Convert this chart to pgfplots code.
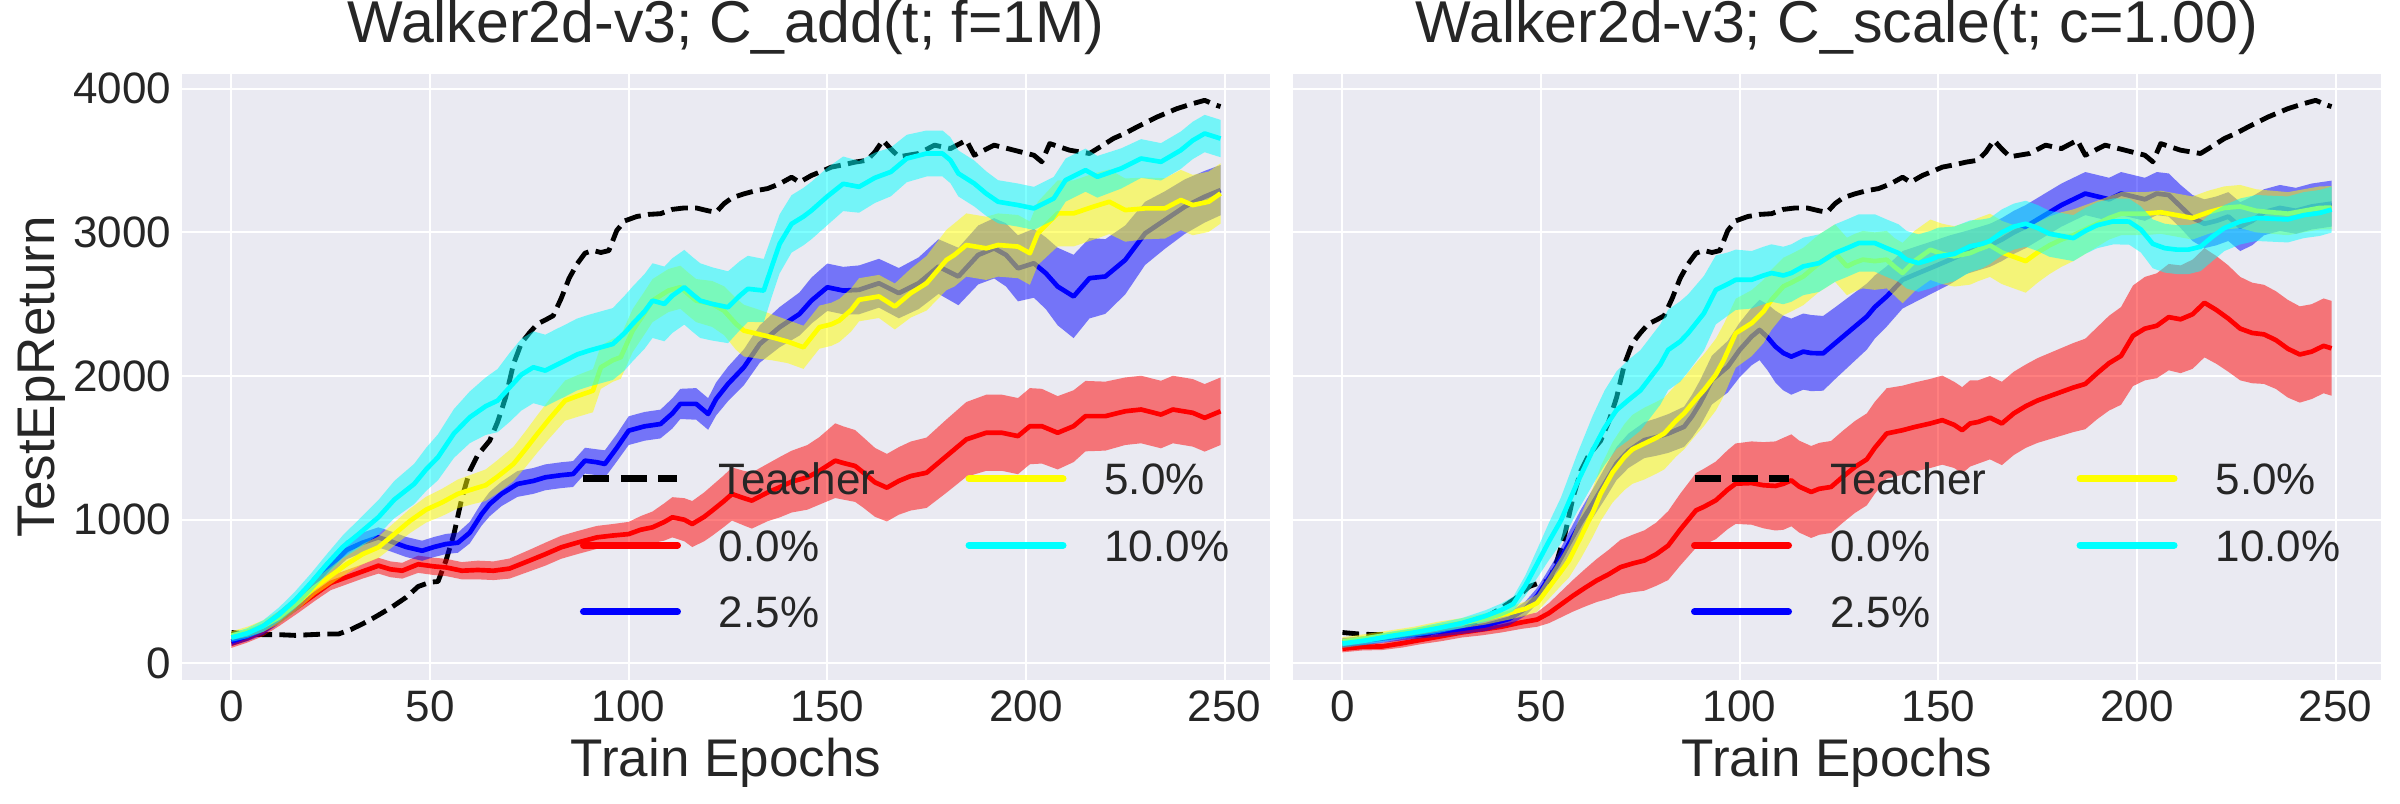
\documentclass[border=0pt]{standalone}
\usepackage{fontspec}
\setmainfont{Liberation Sans}
\usepackage{pgfplots}
\usepackage{pgfplotstable}
\pgfplotsset{compat=1.18}
\usepgfplotslibrary{fillbetween}
\definecolor{bgc}{RGB}{234,234,242}
\definecolor{tc}{RGB}{38,38,38}
\definecolor{cR}{RGB}{255,0,0}
\definecolor{cB}{RGB}{0,0,255}
\definecolor{cY}{RGB}{255,255,0}
\definecolor{cC}{RGB}{0,255,255}
\definecolor{cK}{RGB}{0,0,0}
\newcommand\tickfont{\fontsize{13.2}{15.8}\selectfont}
\newcommand\labfont{\fontsize{15.9}{19}\selectfont}
\newcommand\titfont{\fontsize{17.7}{21}\selectfont}

\pgfplotstableread{
x m
0 215
4 205
8 200
12 200
16 195
20 200
24 205
27 205
30 235
33 275
36 320
40 385
44 460
47 535
50 565
52 570
54 715
56 900
58 1150
60 1340
62 1450
65 1550
67 1680
69 1850
71 2084
73 2230
75 2300
77 2363
79 2390
81 2420
83 2540
85 2680
87 2780
89 2855
91 2874
93 2860
95 2873
97 3013
99 3080
102 3110
105 3125
108 3130
111 3160
114 3170
117 3170
120 3150
122 3140
124 3200
126 3240
129 3268
132 3290
135 3305
138 3338
141 3384
143 3349
146 3396
149 3430
151 3454
154 3470
157 3489
160 3502
162 3560
164 3641
166 3580
168 3526
171 3540
173 3549
177 3607
181 3583
185 3641
187 3537
192 3607
197 3572
202 3537
204 3491
206 3618
211 3572
216 3549
219 3600
222 3653
225 3690
228 3734
233 3803
238 3861
242 3896
245 3919
248 3884
249 3876
}\Teacher

\pgfplotstableread{
x m d
0 138 30
4 175 30
8 225 35
12 300 40
17 400 45
21 480 45
25 560 50
29 600 50
33 640 50
37 680 55
40 655 55
43 645 55
47 690 60
51 675 60
54 668 60
58 645 60
62 650 65
66 645 65
70 660 70
75 715 75
79 760 80
83 808 80
87 840 80
92 877 80
96 890 80
100 900 85
103 930 95
106 947 110
109 985 130
111 1017 140
114 1000 150
116 970 160
119 1020 170
121 1063 175
124 1130 180
126 1179 185
129 1150 190
131 1133 195
135 1190 200
138 1226 210
141 1265 215
145 1295 225
148 1340 235
152 1411 260
154 1395 255
157 1374 250
159 1330 245
162 1260 240
165 1223 235
168 1270 235
171 1304 240
175 1327 245
180 1443 255
185 1559 260
190 1605 265
194 1605 265
198 1582 265
201 1651 265
204 1651 260
208 1605 255
212 1651 250
215 1721 245
220 1721 240
225 1755 235
229 1767 235
234 1732 235
237 1767 235
242 1744 235
245 1709 235
249 1755 235
}\LRed

\pgfplotstableread{
x m d
0 152 30
4 190 35
8 240 40
12 320 45
17 430 50
21 560 55
25 680 60
29 790 65
33 840 70
37 877 70
40 850 70
44 810 70
48 784 70
51 810 70
54 831 70
57 840 70
60 910 75
63 1040 80
65 1109 85
68 1180 85
72 1249 90
76 1270 90
79 1295 90
83 1310 90
86 1318 90
89 1411 90
92 1400 90
94 1388 95
97 1500 95
100 1620 100
104 1650 100
108 1666 100
111 1740 105
113 1806 105
117 1806 110
120 1736 110
122 1840 115
125 1945 120
129 2061 125
133 2223 130
138 2340 140
143 2432 150
146 2525 160
150 2618 165
154 2595 165
158 2600 170
163 2646 170
168 2577 175
173 2646 180
178 2762 190
183 2693 200
188 2843 205
192 2889 210
195 2843 220
198 2750 230
202 2785 240
205 2716 250
208 2623 270
212 2554 290
216 2681 280
220 2693 260
225 2808 240
230 2993 220
235 3086 200
240 3179 190
245 3248 180
249 3294 175
}\LBlue

\pgfplotstableread{
x m d
0 193 30
4 220 35
8 260 40
12 320 45
17 430 50
21 530 55
25 610 60
29 690 65
33 760 70
37 808 75
41 900 80
45 993 85
49 1070 90
53 1120 95
57 1180 100
61 1215 105
64 1240 110
67 1300 115
71 1388 120
74 1490 125
77 1597 130
80 1700 135
84 1829 140
87 1860 145
91 1898 150
93 2061 150
96 2110 150
98 2131 150
101 2316 150
104 2440 150
106 2525 150
110 2595 150
113 2618 150
115 2570 150
117 2525 150
121 2502 160
124 2455 170
127 2363 180
129 2316 180
133 2290 170
136 2270 160
140 2240 150
144 2200 150
146 2270 150
148 2340 150
151 2360 150
153 2386 150
156 2460 150
158 2531 150
163 2554 150
167 2484 160
171 2577 170
175 2646 190
180 2808 210
182 2843 220
185 2912 220
190 2889 220
193 2912 220
198 2901 220
201 2855 220
203 2993 220
208 3132 230
212 3132 230
217 3179 230
221 3213 225
225 3155 220
230 3167 215
235 3167 210
239 3225 210
242 3190 210
246 3213 210
249 3271 210
}\LYellow

\pgfplotstableread{
x m d
0 180 30
4 210 35
8 260 40
12 340 50
16 440 60
20 560 65
24 690 70
28 810 80
32 900 100
37 1017 120
41 1140 130
46 1249 140
49 1350 150
52 1435 160
56 1600 170
60 1713 180
64 1790 200
67 1829 220
70 1920 240
73 2010 250
76 2061 250
79 2038 250
82 2080 250
84 2107 250
87 2150 250
90 2177 250
93 2200 250
96 2223 250
99 2300 260
101 2363 260
104 2450 260
106 2525 260
109 2502 260
111 2560 260
114 2618 260
116 2570 260
118 2525 260
121 2502 255
125 2479 250
128 2560 240
130 2607 230
134 2595 220
136 2760 210
138 2920 205
141 3059 200
144 3110 200
146 3152 200
150 3250 200
154 3338 190
158 3317 180
162 3380 175
166 3421 170
170 3514 165
175 3549 160
179 3549 160
181 3502 160
183 3410 160
187 3340 160
190 3270 155
193 3213 150
198 3190 150
202 3167 150
207 3236 150
210 3364 150
215 3433 150
218 3387 145
224 3445 140
229 3514 135
234 3491 130
239 3572 130
242 3640 130
245 3688 130
249 3653 130
}\LCyan

\pgfplotstableread{
x m d
0 102 25
5 115 25
10 118 25
15 140 30
20 165 30
25 190 35
30 215 35
35 235 40
40 255 40
45 285 45
49 305 50
52 350 70
55 410 90
58 470 110
61 525 130
64 577 150
67 620 170
70 670 190
73 695 200
76 716 210
79 760 220
82 820 240
85 930 250
89 1065 260
91 1090 265
94 1135 270
97 1210 275
99 1251 280
103 1255 290
106 1240 300
109 1235 310
111 1250 320
113 1274 320
115 1230 320
118 1193 320
120 1215 320
123 1228 320
126 1300 320
129 1367 320
132 1420 320
134 1500 320
137 1600 315
141 1623 310
144 1645 310
148 1670 310
151 1693 310
154 1660 300
156 1623 300
158 1670 300
160 1680 290
163 1710 290
166 1670 290
169 1740 290
172 1790 290
175 1830 295
178 1860 300
181 1890 305
184 1920 310
187 1945 315
190 2020 320
193 2090 330
196 2140 340
199 2280 350
202 2330 360
205 2350 365
208 2410 370
211 2395 375
214 2430 380
217 2510 380
220 2460 375
223 2400 370
226 2330 360
229 2300 350
232 2290 345
235 2250 340
238 2190 340
241 2150 335
244 2170 330
247 2210 330
249 2193 330
}\RRed

\pgfplotstableread{
x m d
0 146 30
6 160 30
12 180 30
18 200 30
24 220 35
30 240 35
36 265 40
42 310 45
46 380 50
49 470 55
51 553 60
54 680 70
57 833 80
60 980 90
63 1112 100
66 1250 110
69 1391 115
72 1480 120
76 1554 125
79 1575 130
82 1600 135
86 1647 140
88 1720 150
90 1809 160
93 1972 170
97 2065 180
100 2182 190
103 2275 200
105 2321 210
107 2270 230
109 2205 250
111 2160 260
113 2135 265
116 2170 265
118 2160 265
121 2158 260
124 2228 250
128 2321 240
132 2414 230
134 2480 220
137 2554 210
141 2670 200
145 2717 190
149 2763 180
153 2810 170
157 2860 150
160 2885 150
163 2910 150
166 2950 150
169 3000 150
172 3040 150
175 3090 150
178 3140 150
181 3190 150
184 3230 150
187 3270 150
190 3250 150
193 3230 150
196 3270 150
199 3250 150
202 3230 150
205 3270 150
208 3260 150
211 3180 150
214 3100 160
217 3060 170
220 3080 170
223 3110 170
226 3040 170
229 3080 170
232 3140 160
236 3170 160
240 3150 160
244 3180 160
249 3200 160
}\RBlue

\pgfplotstableread{
x m d
0 152 30
6 175 30
12 200 30
18 225 30
24 255 35
30 280 35
36 310 40
42 350 45
46 380 50
49 420 60
52 530 80
55 640 100
57 716 120
60 880 150
63 1050 170
65 1181 190
68 1330 210
71 1437 230
73 1490 240
76 1530 250
79 1570 250
81 1600 250
84 1690 250
86 1740 250
89 1840 250
91 1902 250
94 2010 250
96 2112 250
99 2298 240
103 2368 230
106 2450 220
108 2531 210
111 2624 200
113 2650 200
116 2693 200
118 2740 200
120 2786 200
122 2820 200
124 2856 200
127 2763 200
129 2790 200
131 2810 200
134 2800 200
137 2810 200
139 2760 200
141 2717 210
144 2800 210
148 2879 210
151 2850 210
154 2833 210
158 2856 220
160 2880 220
163 2910 220
166 2860 220
169 2830 220
172 2800 220
175 2860 210
178 2910 200
181 2950 190
184 2980 180
187 3020 170
190 3060 160
193 3100 150
196 3130 150
199 3130 150
202 3130 150
206 3140 150
210 3120 150
214 3100 150
218 3140 150
222 3170 150
226 3180 150
230 3150 150
234 3140 150
238 3130 150
242 3150 150
246 3170 150
249 3172 150
}\RYellow

\pgfplotstableread{
x m d
0 138 30
6 160 30
12 190 30
18 215 30
24 245 35
30 280 35
36 330 40
40 372 45
43 414 50
46 540 70
49 693 100
52 850 130
55 995 160
59 1251 200
63 1484 240
66 1640 260
69 1763 270
72 1833 280
75 1900 280
77 1972 280
80 2080 280
82 2182 280
85 2240 280
87 2298 270
91 2437 260
94 2600 240
97 2640 220
99 2670 210
103 2670 200
106 2700 200
108 2717 200
111 2700 200
113 2717 200
116 2763 200
120 2786 200
124 2856 200
127 2890 200
130 2926 200
134 2926 200
137 2890 200
140 2856 200
142 2810 200
145 2786 200
148 2810 200
150 2833 200
154 2850 190
158 2903 180
161 2920 170
163 2940 160
166 3000 160
169 3040 160
172 3060 160
175 3030 160
178 2990 160
181 2975 160
184 2960 160
187 3010 160
190 3050 160
194 3076 160
198 3075 160
201 3020 160
204 2920 170
207 2890 170
210 2880 170
213 2880 170
216 2900 170
219 2970 170
222 3030 160
226 3076 160
230 3100 160
234 3095 160
238 3090 160
242 3120 160
246 3135 160
249 3159 160
}\RCyan

\pgfkeys{/tikz/fill between/on layer/.try=main}

\pgfplotsset{
  panel/.style={
    width=326.4pt, height=181.8pt, scale only axis,
    xmin=-12.45, xmax=261.45, ymin=-114, ymax=4104,
    axis background/.style={fill=bgc},
    axis line style={draw=none},
    grid=major, grid style={white, line width=0.6pt},
    major tick length=0pt,
    xtick={0,50,...,250}, ytick={0,1000,2000,3000,4000},
    scaled ticks=false,
    /pgf/number format/assume math mode=true,
    /pgf/number format/1000 sep={},
    tick label style={font=\tickfont, text=tc, inner sep=0pt},
    xticklabel style={anchor=base, yshift=-12.6pt},
    yticklabel style={anchor=east, xshift=-3pt},
    xlabel={Train Epochs},
    xlabel style={font=\labfont, text=tc, at={(axis description cs:0.5,-0.16007)}, anchor=base, inner sep=0pt},
    title style={font=\titfont, text=tc, at={(axis description cs:0.5,1.01815)}, anchor=base, inner sep=0pt},
    legend columns=2,
    legend cell align=left,
    legend image code/.code={\draw[##1] (0pt,0pt) -- (28.2pt,0pt);},
    legend style={at={(axis description cs:0.3658,0.3578)}, anchor=north west,
      draw=none, fill=none, inner sep=0pt, outer sep=0pt,
      font=\tickfont, text=tc, row sep=10.45pt,
      nodes={inner sep=0pt, text height=9.5pt, text depth=0pt},
      /tikz/every odd column/.append style={column sep=11.4pt},
      /tikz/every even column/.append style={column sep=27pt}},
  },
  ln/.style={line width=1.4pt, line join=round, forget plot},
  bandp/.style={draw=none, forget plot},
}

\newcommand\series[3]{%
  \addplot[ln, color=#2] table[x=x, y=m] {#1};
  \addplot[bandp, name path=U#3] table[x=x, y expr=\thisrow{m}+\thisrow{d}] {#1};
  \addplot[bandp, name path=L#3] table[x=x, y expr=\thisrow{m}-\thisrow{d}] {#1};
  \addplot[draw=none, fill=#2, fill opacity=0.5, forget plot] fill between[of=U#3 and L#3];
}

\newcommand\legendentries{%
  \addlegendimage{cK, line width=2.1pt, dash pattern=on 7.8pt off 3.4pt}
  \addlegendentry{Teacher}
  \addlegendimage{cY, line width=2.1pt, line cap=round}
  \addlegendentry{5.0\%}
  \addlegendimage{cR, line width=2.1pt, line cap=round}
  \addlegendentry{0.0\%}
  \addlegendimage{cC, line width=2.1pt, line cap=round}
  \addlegendentry{10.0\%}
  \addlegendimage{cB, line width=2.1pt, line cap=round}
  \addlegendentry{2.5\%}
}

\begin{document}
\begin{tikzpicture}
\path (0pt,0pt) rectangle (720pt,240pt);
\begin{axis}[panel, at={(54.6pt,37.2pt)}, anchor=south west,
  title={Walker2d-v3; C\_add(t; f=1M)},
  ylabel={TestEpReturn},
  ylabel style={font=\labfont, text=tc, at={(axis description cs:-0.11673,0.5)}, anchor=base, inner sep=0pt}]
  \addplot[ln, cK, line width=1.45pt, dash pattern=on 5pt off 2.2pt] table[x=x, y=m] {\Teacher};
  \series{\LRed}{cR}{a}
  \series{\LBlue}{cB}{b}
  \series{\LYellow}{cY}{c}
  \series{\LCyan}{cC}{d}
  \legendentries
\end{axis}
\begin{axis}[panel, at={(387.9pt,37.2pt)}, anchor=south west,
  title={Walker2d-v3; C\_scale(t; c=1.00)},
  yticklabels={}]
  \addplot[ln, cK, line width=1.45pt, dash pattern=on 5pt off 2.2pt] table[x=x, y=m] {\Teacher};
  \series{\RRed}{cR}{a}
  \series{\RBlue}{cB}{b}
  \series{\RYellow}{cY}{c}
  \series{\RCyan}{cC}{d}
  \legendentries
\end{axis}
\end{tikzpicture}
\end{document}
